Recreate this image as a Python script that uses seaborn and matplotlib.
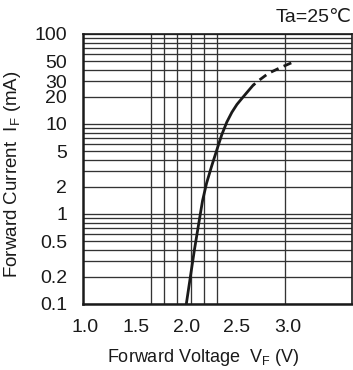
import numpy as np
import pandas as pd
import matplotlib
matplotlib.use("Agg")
import matplotlib.pyplot as plt
import seaborn as sns
from matplotlib.ticker import FixedLocator, NullFormatter, NullLocator

sns.set_theme(style="white")
plt.rcParams['font.family'] = ['Liberation Sans', 'DejaVu Sans']
plt.rcParams['mathtext.fontset'] = 'custom'
plt.rcParams['mathtext.rm'] = 'Liberation Sans'

# Data
vf_solid = [2.00, 2.04, 2.08, 2.12, 2.16, 2.20, 2.25, 2.30, 2.35, 2.40, 2.45, 2.50, 2.55, 2.60, 2.66]
if_solid = [0.1, 0.2, 0.4, 0.75, 1.4, 2.2, 3.4, 5.1, 7.6, 10.5, 13.5, 16.5, 19.3, 22.5, 27.0]
vf_dash = [2.66, 2.73, 2.81, 2.93, 3.06]
if_dash = [27.0, 31.3, 36.5, 42.4, 49.0]

x_ticks = [1.0, 1.5, 2.0, 2.5, 3.0]
x_ticklabels = ["1.0", "1.5", "2.0", "2.5", "3.0"]
x_grid = [1.65, 1.78, 1.91, 2.05, 2.17, 2.30, 2.97]
y_ticks = [0.1, 0.2, 0.5, 1, 2, 5, 10, 20, 30, 50, 100]
y_ticklabels = ["0.1", "0.2", "0.5", "1", "2", "5", "10", "20", "30", "50", "100"]

df_solid = pd.DataFrame({"vf": vf_solid, "if": if_solid})
df_dash = pd.DataFrame({"vf": vf_dash, "if": if_dash})

fig = plt.figure(figsize=(3.53, 3.70), dpi=100)
ax = fig.add_axes([82.5/353, 66/370, (352-82.5)/353, (304-34)/370])

ax.set_yscale("log")
ax.set_xlim(0.975, 3.636)
ax.set_ylim(0.1, 100)

# grid
y_grid = [m * 10.0**e for e in (-1, 0, 1) for m in range(1, 10)] + [100]
for yv in y_grid:
    ax.axhline(yv, color="#333333", lw=0.95, zorder=1)
for xv in x_grid:
    ax.axvline(xv, color="#333333", lw=0.95, zorder=1)

sns.lineplot(data=df_solid, x="vf", y="if", ax=ax, color="#1a1a1a", lw=2.0,
             sort=False, estimator=None, zorder=3)
sns.lineplot(data=df_dash, x="vf", y="if", ax=ax, color="#1a1a1a", lw=2.0,
             sort=False, estimator=None, zorder=3, linestyle=(2.0, (3.0, 2.0)))

ax.xaxis.set_major_locator(FixedLocator(x_ticks))
ax.set_xticklabels(x_ticklabels)
ax.yaxis.set_major_locator(FixedLocator(y_ticks))
ax.yaxis.set_minor_locator(NullLocator())
ax.yaxis.set_minor_formatter(NullFormatter())
ax.set_yticklabels(y_ticklabels)
ax.tick_params(axis="both", length=0, labelsize=14, colors="#1a1a1a")
ax.tick_params(axis="x", pad=11)
ax.tick_params(axis="y", pad=11)
ax.grid(False)

for side in ["left", "bottom"]:
    ax.spines[side].set_linewidth(1.8)
    ax.spines[side].set_color("#1a1a1a")
for side in ["top", "right"]:
    ax.spines[side].set_linewidth(1.2)
    ax.spines[side].set_color("#1a1a1a")

ax.set_xlabel(r"Forward Voltage  V$_\mathregular{F}$ (V)", fontsize=13, color="#1a1a1a")
ax.set_ylabel(r"Forward Current  I$_\mathregular{F}$ (mA)", fontsize=13.5, color="#1a1a1a")
ax.xaxis.set_label_coords(0.447, -0.16)
ax.yaxis.set_label_coords(-0.222, 0.48)

fig.text(352/353, 1 - 17/370, "Ta=25℃", ha="right", va="center", fontsize=14,
         color="#1a1a1a")

fig.savefig("out.png", dpi=100)
